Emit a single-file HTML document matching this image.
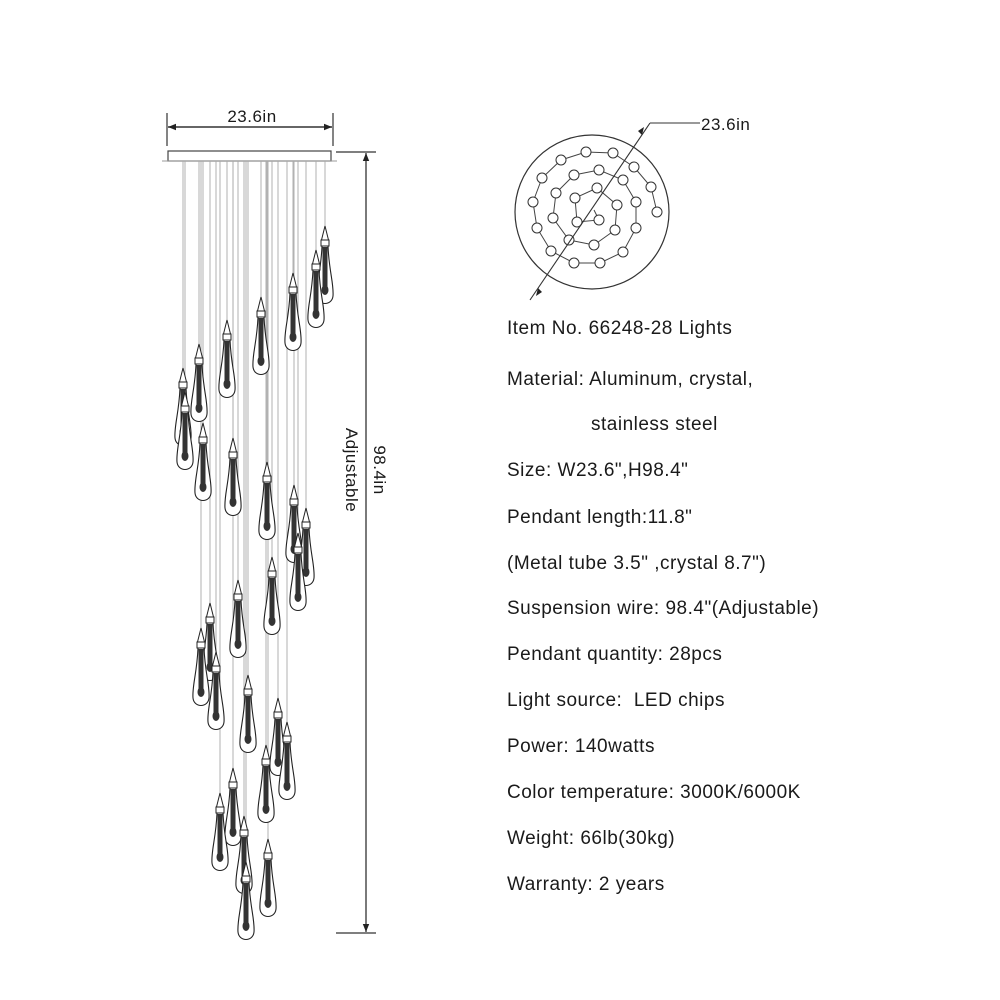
<!DOCTYPE html>
<html><head><meta charset="utf-8"><style>
html,body{margin:0;padding:0;background:#fff;width:1000px;height:1000px;overflow:hidden}
svg{display:block}
.t{font-family:"Liberation Sans",sans-serif;font-size:19px;letter-spacing:0.5px;fill:#1a1a1a}
</style></head><body>
<svg id="s" width="1000" height="1000" viewBox="0 0 1000 1000" xmlns="http://www.w3.org/2000/svg">
<defs>
<marker id="ar" viewBox="0 0 10 10" refX="10" refY="5" markerWidth="10" markerHeight="8" orient="auto-start-reverse" markerUnits="userSpaceOnUse"><path d="M0,1 L10,5 L0,9z" fill="#222"/></marker>
</defs>
<line x1="167" y1="113" x2="167" y2="146" stroke="#333" stroke-width="1.2"/>
<line x1="333" y1="113" x2="333" y2="146" stroke="#333" stroke-width="1.2"/>
<line x1="168" y1="127" x2="332" y2="127" stroke="#333" stroke-width="1.5" marker-start="url(#ar)" marker-end="url(#ar)"/>
<text x="252" y="122" text-anchor="middle" class="t" style="font-size:17px">23.6in</text>
<rect x="168" y="151" width="163" height="10" fill="#fff" stroke="#444" stroke-width="1.2"/>
<line x1="162" y1="161" x2="337" y2="161" stroke="#999" stroke-width="1"/>
<g id="wires" stroke="#aaa" stroke-width="0.9"></g>
<g id="pend"></g>
<line x1="336" y1="152" x2="376" y2="152" stroke="#333" stroke-width="1.2"/>
<line x1="336" y1="933" x2="376" y2="933" stroke="#333" stroke-width="1.2"/>
<line x1="366" y1="153" x2="366" y2="932" stroke="#333" stroke-width="1.3" marker-start="url(#ar)" marker-end="url(#ar)"/>
<text transform="translate(374,470) rotate(90)" text-anchor="middle" class="t" style="font-size:17px">98.4in</text>
<text transform="translate(346,470) rotate(90)" text-anchor="middle" class="t" style="font-size:17px">Adjustable</text>
<circle cx="592" cy="212" r="77" fill="none" stroke="#333" stroke-width="1.2"/>
<path d="M657,212 L651,187 L634,167 L613,153 L586,152 L561,160 L542,178 L533,202 L537,228 L551,251 L574,263 L600,263 L623,252 L636,228 L636,202 L623,180 L599,170 L574,175 L556,193 L553,218 L569,240 L594,245 L615,230 L617,205 L597,188 L575,198 L577,222 L599,220 L594,210" fill="none" stroke="#444" stroke-width="1"/>
<g id="dots" fill="#fff" stroke="#333" stroke-width="1"></g>
<line x1="530" y1="300" x2="650" y2="123" stroke="#333" stroke-width="1.1"/>
<path d="M650,123 L700,123" stroke="#333" stroke-width="1.1"/>
<path d="M538,288 l-2,8 l6,-4z M642,135 l2,-8 l-6,4z" fill="#222"/>
<text x="701" y="130" class="t" style="font-size:17px">23.6in</text>
<text x="507" y="334" class="t">Item No. 66248-28 Lights</text>
<text x="507" y="385" class="t">Material: Aluminum, crystal,</text>
<text x="591" y="430" class="t">stainless steel</text>
<text x="507" y="476" class="t">Size: W23.6",H98.4"</text>
<text x="507" y="523" class="t">Pendant length:11.8"</text>
<text x="507" y="569" class="t">(Metal tube 3.5" ,crystal 8.7")</text>
<text x="507" y="614" class="t">Suspension wire: 98.4"(Adjustable)</text>
<text x="507" y="660" class="t">Pendant quantity: 28pcs</text>
<text x="507" y="706" class="t" xml:space="preserve">Light source:  LED chips</text>
<text x="507" y="752" class="t">Power: 140watts</text>
<text x="507" y="798" class="t">Color temperature: 3000K/6000K</text>
<text x="507" y="844" class="t">Weight: 66lb(30kg)</text>
<text x="507" y="890" class="t">Warranty: 2 years</text>
</svg>
<script>
var NS="http://www.w3.org/2000/svg";
function el(p,n,a){var e=document.createElementNS(NS,n);for(var k in a)e.setAttribute(k,a[k]);p.appendChild(e);return e;}
var dots=[[586,152],[613,153],[561,160],[634,167],[542,178],[651,187],[657,212],[533,202],[537,228],[551,251],[574,263],[600,263],[623,252],[636,228],[636,202],[623,180],[599,170],[574,175],[556,193],[553,218],[569,240],[594,245],[615,230],[617,205],[597,188],[575,198],[577,222],[599,220]];
var dg=document.getElementById('dots');
dots.forEach(function(d){el(dg,'circle',{cx:d[0],cy:d[1],r:5});});
var P=[[325,226],[316,250],[293,273],[261,297],[227,320],[199,344],[183,368],[185,392],[203,423],[233,438],[267,462],[294,485],[306,508],[298,533],[272,557],[238,580],[210,603],[201,628],[216,652],[248,675],[278,698],[287,722],[266,745],[233,768],[220,793],[244,816],[268,839],[246,862]];
var wg=document.getElementById('wires'),pg=document.getElementById('pend');
P.forEach(function(p){el(wg,'line',{x1:p[0],y1:161,x2:p[0],y2:p[1]});});
P.forEach(function(p){
 var x=p[0],t=p[1];
 el(pg,'path',{d:'M'+(x-3)+','+(t+20)+' C'+(x-4)+','+(t+45)+' '+(x-9)+','+(t+58)+' '+(x-8)+','+(t+70)+' C'+(x-7)+','+(t+80)+' '+(x+7)+','+(t+80)+' '+(x+8)+','+(t+70)+' C'+(x+9)+','+(t+58)+' '+(x+4)+','+(t+45)+' '+(x+3)+','+(t+20)+' Z',fill:'#fff',stroke:'#222','stroke-width':1.1});
 el(pg,'rect',{x:x-2.5,y:t+21,width:5,height:44,fill:'#333'});
 el(pg,'ellipse',{cx:x,cy:t+64,rx:3.5,ry:5,fill:'#333'});
 el(pg,'path',{d:'M'+x+','+t+' L'+(x+3.5)+','+(t+14)+' L'+(x-3.5)+','+(t+14)+' Z',fill:'#fff',stroke:'#222','stroke-width':1});
 el(pg,'rect',{x:x-4,y:t+14,width:8,height:6,fill:'#fff',stroke:'#222','stroke-width':1});
});
</script>
</body></html>
